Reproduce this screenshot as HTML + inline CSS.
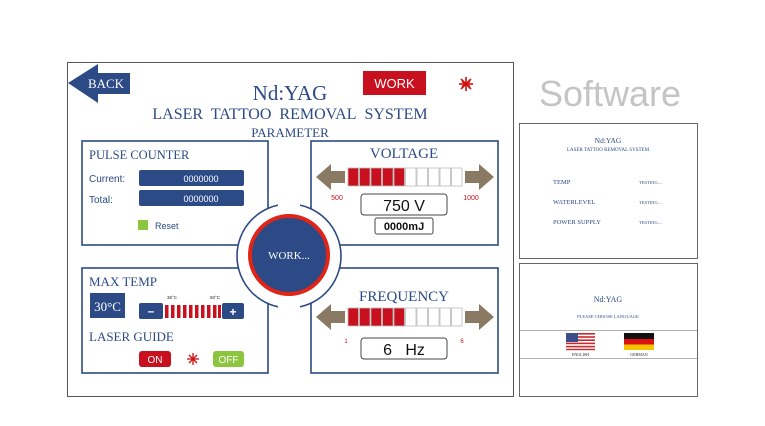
<!DOCTYPE html>
<html><head><meta charset="utf-8"><style>
html,body{margin:0;padding:0;background:#fff;width:765px;height:426px;overflow:hidden}
svg{display:block}
.s{font-family:"Liberation Serif",serif;fill:#2b4a86}
.a{font-family:"Liberation Sans",sans-serif}
</style></head><body>
<svg width="765" height="426" viewBox="0 0 765 426" xmlns="http://www.w3.org/2000/svg">
<rect x="67.5" y="62.5" width="446" height="334" fill="#fff" stroke="#555" stroke-width="1"/>
<polygon points="68,83 98,64 98,73 130,73 130,94 98,94 98,103" fill="#2b4a86"/>
<text x="106" y="88" class="s" font-size="13" style="fill:#fff" text-anchor="middle">BACK</text>
<rect x="363" y="71" width="63" height="24" fill="#c8101e"/>
<text x="394.5" y="88" class="a" font-size="13" fill="#fff" text-anchor="middle">WORK</text>
<g stroke="#d01010" stroke-width="1.6">
<line x1="459" y1="84" x2="473" y2="84"/><line x1="466" y1="77" x2="466" y2="91"/>
<line x1="461" y1="79" x2="471" y2="89"/><line x1="471" y1="79" x2="461" y2="89"/>
<line x1="462" y1="81.5" x2="470" y2="86.5"/><line x1="470" y1="81.5" x2="462" y2="86.5"/>
</g>
<text x="290" y="100" class="s" font-size="21" text-anchor="middle">Nd:YAG</text>
<text x="290" y="119" class="s" font-size="16" text-anchor="middle">LASER&#160; TATTOO&#160; REMOVAL&#160; SYSTEM</text>
<text x="290" y="137" class="s" font-size="13" text-anchor="middle">PARAMETER</text>
<g fill="none" stroke="#2b4a86" stroke-width="1.6">
<rect x="82" y="141" width="186" height="104"/>
<rect x="311" y="141" width="187" height="104"/>
<rect x="82" y="268" width="186" height="105"/>
<rect x="311" y="268" width="187" height="105"/>
</g>
<circle cx="289" cy="256" r="52" fill="#fff" stroke="#2b4a86" stroke-width="1.6"/>
<rect x="240" y="246" width="98" height="21" fill="#fff"/>
<rect x="278" y="190" width="22" height="132" fill="#fff"/>
<circle cx="289" cy="255" r="39" fill="#2b4a86" stroke="#e02418" stroke-width="4"/>
<text x="289" y="259" class="s" font-size="11" style="fill:#fff" text-anchor="middle">WORK...</text>
<text x="89" y="159" class="s" font-size="12.5">PULSE COUNTER</text>
<text x="89" y="182" class="a" font-size="10" fill="#2b4a86">Current:</text>
<text x="89" y="203" class="a" font-size="10" fill="#2b4a86">Total:</text>
<rect x="139" y="170" width="105" height="16" rx="2" fill="#2b4a86"/>
<rect x="139" y="190" width="105" height="16" rx="2" fill="#2b4a86"/>
<text x="201" y="182" class="a" font-size="9" fill="#fff" text-anchor="middle">0000000</text>
<text x="201" y="202" class="a" font-size="9" fill="#fff" text-anchor="middle">0000000</text>
<rect x="138" y="220" width="10" height="10" fill="#8cc63f"/>
<text x="155" y="229" class="a" font-size="9" fill="#2b4a86">Reset</text>
<text x="404" y="158" class="s" font-size="15" text-anchor="middle">VOLTAGE</text>
<g fill="#8a7a63">
<polygon points="316,177 331,164 331,171 345,171 345,183 331,183 331,190"/>
<polygon points="494,177 479,164 479,171 465,171 465,183 479,183 479,190"/>
<polygon points="316,317 331,304 331,311 345,311 345,323 331,323 331,330"/>
<polygon points="494,317 479,304 479,311 465,311 465,323 479,323 479,330"/>
</g>
<g stroke="#bbb" stroke-width="0.8">
<rect x="348" y="168" width="10.5" height="18" fill="#c8101e"/><rect x="359.5" y="168" width="10.5" height="18" fill="#c8101e"/><rect x="371" y="168" width="10.5" height="18" fill="#c8101e"/><rect x="382.5" y="168" width="10.5" height="18" fill="#c8101e"/><rect x="394" y="168" width="10.5" height="18" fill="#c8101e"/>
<rect x="405.5" y="168" width="10.5" height="18" fill="#fff"/><rect x="417" y="168" width="10.5" height="18" fill="#fff"/><rect x="428.5" y="168" width="10.5" height="18" fill="#fff"/><rect x="440" y="168" width="10.5" height="18" fill="#fff"/><rect x="451.5" y="168" width="10.5" height="18" fill="#fff"/>
<rect x="348" y="308" width="10.5" height="18" fill="#c8101e"/><rect x="359.5" y="308" width="10.5" height="18" fill="#c8101e"/><rect x="371" y="308" width="10.5" height="18" fill="#c8101e"/><rect x="382.5" y="308" width="10.5" height="18" fill="#c8101e"/><rect x="394" y="308" width="10.5" height="18" fill="#c8101e"/>
<rect x="405.5" y="308" width="10.5" height="18" fill="#fff"/><rect x="417" y="308" width="10.5" height="18" fill="#fff"/><rect x="428.5" y="308" width="10.5" height="18" fill="#fff"/><rect x="440" y="308" width="10.5" height="18" fill="#fff"/><rect x="451.5" y="308" width="10.5" height="18" fill="#fff"/>
</g>
<text x="337" y="200" class="a" font-size="7" fill="#c8101e" text-anchor="middle">500</text>
<text x="471" y="200" class="a" font-size="7" fill="#c8101e" text-anchor="middle">1000</text>
<rect x="361" y="194" width="86" height="21" rx="3" fill="#fff" stroke="#444" stroke-width="1"/>
<text x="404" y="211" class="a" font-size="16" fill="#111" text-anchor="middle">750 V</text>
<rect x="375" y="218" width="58" height="16" rx="2" fill="#fff" stroke="#444" stroke-width="1"/>
<text x="404" y="230" class="a" font-size="11" font-weight="bold" fill="#111" text-anchor="middle">0000mJ</text>
<text x="89" y="286" class="s" font-size="13">MAX TEMP</text>
<rect x="90" y="293" width="35" height="25" fill="#2b4a86"/>
<text x="107.5" y="311" class="s" font-size="13" style="fill:#fff" text-anchor="middle">30°C</text>
<rect x="139" y="303" width="24" height="16" rx="2" fill="#2b4a86"/>
<rect x="222" y="303" width="22" height="16" rx="2" fill="#2b4a86"/>
<text x="151" y="315" class="a" font-size="12" font-weight="bold" fill="#fff" text-anchor="middle">–</text>
<text x="233" y="316" class="a" font-size="12" font-weight="bold" fill="#fff" text-anchor="middle">+</text>
<g fill="#c8101e">
<rect x="165" y="305" width="3.5" height="13"/><rect x="171" y="305" width="3.5" height="13"/><rect x="177" y="305" width="3.5" height="13"/><rect x="183" y="305" width="3.5" height="13"/><rect x="189" y="305" width="3.5" height="13"/><rect x="195" y="305" width="3.5" height="13"/><rect x="201" y="305" width="3.5" height="13"/><rect x="207" y="305" width="3.5" height="13"/><rect x="213" y="305" width="3.5" height="13"/><rect x="218" y="305" width="3" height="13"/>
</g>
<text x="167" y="299" class="a" font-size="4.5" fill="#222">36°C</text>
<text x="210" y="299" class="a" font-size="4.5" fill="#222">50°C</text>
<text x="89" y="341" class="s" font-size="13">LASER GUIDE</text>
<rect x="139" y="351" width="32" height="16" rx="3" fill="#c8101e"/>
<text x="155" y="363" class="a" font-size="10" fill="#fff" text-anchor="middle">ON</text>
<rect x="213" y="351" width="31" height="16" rx="3" fill="#8cc63f"/>
<text x="228.5" y="363" class="a" font-size="10" fill="#fff" text-anchor="middle">OFF</text>
<g stroke="#d01010" stroke-width="1.3">
<line x1="187" y1="359" x2="199" y2="359"/><line x1="193" y1="353" x2="193" y2="365"/>
<line x1="189" y1="355" x2="197" y2="363"/><line x1="197" y1="355" x2="189" y2="363"/>
</g>
<text x="404" y="301" class="s" font-size="15" text-anchor="middle">FREQUENCY</text>
<text x="346" y="343" class="a" font-size="6" fill="#c8101e" text-anchor="middle">1</text>
<text x="462" y="343" class="a" font-size="6" fill="#c8101e" text-anchor="middle">6</text>
<rect x="361" y="338" width="86" height="21" rx="3" fill="#fff" stroke="#444" stroke-width="1"/>
<text x="404" y="355" class="a" font-size="16" fill="#111" text-anchor="middle">6&#160;&#160; Hz</text>
<text x="610" y="106" class="a" font-size="36" fill="#c4c4c4" text-anchor="middle">Software</text>
<rect x="519.5" y="123.5" width="178" height="135" fill="#fff" stroke="#666" stroke-width="1"/>
<rect x="519.5" y="263.5" width="178" height="133" fill="#fff" stroke="#666" stroke-width="1"/>
<text x="608" y="143" class="s" font-size="7.5" text-anchor="middle">Nd:YAG</text>
<text x="608" y="151" class="s" font-size="5" text-anchor="middle">LASER TATTOO REMOVAL SYSTEM</text>
<text x="553" y="184" class="s" font-size="6.5">TEMP</text>
<text x="553" y="204" class="s" font-size="6.5">WATERLEVEL</text>
<text x="553" y="224" class="s" font-size="6.5">POWER SUPPLY</text>
<text x="639" y="184" class="s" font-size="4.5">TESTING....</text>
<text x="639" y="204" class="s" font-size="4.5">TESTING....</text>
<text x="639" y="224" class="s" font-size="4.5">TESTING....</text>
<text x="608" y="302" class="s" font-size="8" text-anchor="middle">Nd:YAG</text>
<text x="608" y="318" class="s" font-size="4.5" text-anchor="middle">PLEASE CHOOSE LANGUAGE</text>
<line x1="520" y1="330.5" x2="697" y2="330.5" stroke="#999" stroke-width="0.8"/>
<line x1="520" y1="358.5" x2="697" y2="358.5" stroke="#999" stroke-width="0.8"/>
<g>
<rect x="566" y="333" width="29" height="17" fill="#fff"/>
<rect x="566" y="333" width="29" height="1.6" fill="#c8282e"/><rect x="566" y="336.2" width="29" height="1.6" fill="#c8282e"/><rect x="566" y="339.4" width="29" height="1.6" fill="#c8282e"/><rect x="566" y="342.6" width="29" height="1.6" fill="#c8282e"/><rect x="566" y="345.8" width="29" height="1.6" fill="#c8282e"/><rect x="566" y="348.8" width="29" height="1.4" fill="#c8282e"/>
<rect x="566" y="333" width="12" height="9" fill="#3c4e8a"/>
<rect x="624" y="333" width="30" height="6" fill="#111"/>
<rect x="624" y="339" width="30" height="5.5" fill="#dd1111"/>
<rect x="624" y="344.5" width="30" height="5.5" fill="#f5c400"/>
</g>
<text x="580.5" y="356" class="s" font-size="4" style="fill:#222" text-anchor="middle">ENGLISH</text>
<text x="639" y="356" class="s" font-size="4" style="fill:#222" text-anchor="middle">GERMAN</text>
</svg>
</body></html>
